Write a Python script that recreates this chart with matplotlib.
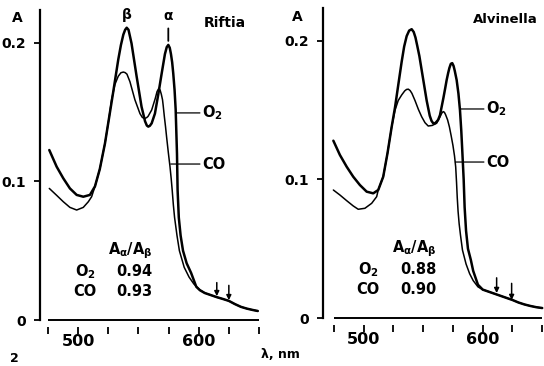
# -*- coding: UTF-8 -*-

# Absorption spectra of oxy (O2) and carboxy (CO) hemoglobin
# Riftia (left) and Alvinella (right)

import matplotlib
matplotlib.use('Agg')
import matplotlib.pyplot as plt

plt.rcParams['font.family'] = 'DejaVu Sans'
plt.rcParams['font.weight'] = 'bold'
plt.rcParams['mathtext.fontset'] = 'dejavusans'
plt.rcParams['mathtext.default'] = 'bf'

# ---- Riftia ----
rif_o2_wl = [476.1, 482.2, 487.7, 493.2, 498.8, 504.3, 509.8, 514.0, 518.0, 522.3,
             525.5, 529.0, 533.3, 535.5, 537.5, 539.0, 540.3, 541.8, 544.3, 548.5,
             552.6, 555.5, 557.0, 558.2, 559.5, 561.0, 563.7, 566.5, 569.3, 572.0,
             573.5, 574.8, 576.0, 577.0, 578.0, 578.9, 580.0, 580.9, 582.0, 582.5,
             583.5, 585.0, 587.0, 590.0, 593.7, 598.0, 601.0, 605.0, 610.0, 615.0,
             620.0, 625.0, 630.0, 635.0, 640.0, 645.0, 649.0]
rif_o2_a = [0.1227, 0.1107, 0.1023, 0.0950, 0.0903, 0.0890, 0.0903, 0.0965, 0.1090, 0.1276,
            0.1450, 0.1640, 0.1880, 0.1985, 0.2060, 0.2095, 0.2110, 0.2095, 0.1997, 0.1760,
            0.1540, 0.1435, 0.1404, 0.1396, 0.1402, 0.1420, 0.1490, 0.1630, 0.1780, 0.1920,
            0.1970, 0.1986, 0.1965, 0.1920, 0.1860, 0.1780, 0.1660, 0.1520, 0.1200, 0.0940,
            0.0740, 0.0610, 0.0500, 0.0410, 0.0340, 0.0240, 0.0215, 0.0195, 0.0180, 0.0165,
            0.0152, 0.0138, 0.0115, 0.0095, 0.0082, 0.0072, 0.0065]

rif_co_wl = [476.1, 482.2, 487.7, 493.2, 498.8, 504.3, 508.5, 511.2, 514.0, 518.0,
             522.3, 525.5, 527.8, 530.5, 533.3, 535.5, 537.5, 539.0, 540.5, 543.0,
             547.1, 551.3, 553.3, 555.4, 557.0, 558.0, 561.0, 564.0, 565.5, 567.0,
             568.0, 569.0, 570.0, 570.6, 571.5, 572.5, 573.4, 574.8, 576.2, 577.2,
             578.0, 579.0, 580.0, 582.0, 584.0, 588.0, 592.0, 596.0, 600.6, 605.0,
             610.0, 615.0, 620.0, 625.0, 630.0, 635.0, 640.0, 645.0, 649.0]
rif_co_a = [0.0950, 0.0900, 0.0854, 0.0813, 0.0794, 0.0813, 0.0854, 0.0890, 0.0965, 0.1090,
            0.1276, 0.1450, 0.1590, 0.1700, 0.1760, 0.1785, 0.1790, 0.1786, 0.1775, 0.1720,
            0.1590, 0.1490, 0.1462, 0.1455, 0.1462, 0.1470, 0.1516, 0.1600, 0.1650, 0.1672,
            0.1660, 0.1630, 0.1590, 0.1545, 0.1470, 0.1395, 0.1320, 0.1210, 0.1107, 0.1020,
            0.0940, 0.0830, 0.0740, 0.0610, 0.0500, 0.0380, 0.0310, 0.0260, 0.0220, 0.0195,
            0.0180, 0.0165, 0.0152, 0.0138, 0.0115, 0.0095, 0.0082, 0.0072, 0.0065]

# ---- Alvinella ----
alv_o2_wl = [474.5, 480.0, 485.7, 491.2, 496.8, 502.5, 508.0, 512.2, 516.4, 520.0,
             523.5, 526.3, 529.0, 531.9, 534.0, 536.1, 538.2, 540.3, 542.0, 543.5,
             545.0, 546.8, 548.7, 552.9, 555.5, 557.0, 558.4, 559.8, 561.0, 562.5,
             564.1, 565.5, 567.0, 568.5, 569.7, 571.0, 572.0, 573.2, 574.4, 575.5,
             576.5, 578.1, 579.6, 580.9, 582.0, 582.8, 584.0, 584.8, 586.0, 587.6,
             590.0, 592.0, 596.0, 600.0, 605.0, 610.0, 615.0, 620.0, 625.0, 630.0,
             635.0, 640.0, 645.0, 650.0]
alv_o2_a = [0.1280, 0.1177, 0.1092, 0.1020, 0.0960, 0.0912, 0.0900, 0.0924, 0.1020, 0.1190,
            0.1380, 0.1520, 0.1680, 0.1850, 0.1960, 0.2035, 0.2075, 0.2085, 0.2065, 0.2025,
            0.1965, 0.1890, 0.1790, 0.1570, 0.1460, 0.1423, 0.1406, 0.1405, 0.1415, 0.1430,
            0.1465, 0.1525, 0.1590, 0.1660, 0.1718, 0.1770, 0.1805, 0.1835, 0.1840, 0.1820,
            0.1785, 0.1718, 0.1620, 0.1500, 0.1350, 0.1213, 0.1000, 0.0800, 0.0630, 0.0500,
            0.0420, 0.0340, 0.0240, 0.0205, 0.0190, 0.0175, 0.0160, 0.0145, 0.0130, 0.0112,
            0.0098, 0.0087, 0.0078, 0.0072]

alv_co_wl = [474.5, 480.0, 485.7, 491.2, 495.4, 501.0, 506.7, 510.9, 512.2, 516.4,
             520.0, 523.5, 526.3, 529.0, 531.9, 534.5, 536.0, 537.5, 539.0, 540.5,
             543.1, 546.0, 548.7, 551.5, 554.2, 557.5, 561.3, 564.0, 565.5, 566.8,
             567.8, 568.8, 570.5, 572.0, 573.5, 575.0, 576.3, 577.3, 578.0, 578.6,
             579.3, 580.2, 581.3, 583.0, 586.0, 589.0, 592.0, 596.0, 600.0, 605.0,
             610.0, 615.0, 620.0, 625.0, 630.0, 635.0, 640.0, 645.0, 650.0]
alv_co_a = [0.0924, 0.0888, 0.0847, 0.0809, 0.0785, 0.0792, 0.0828, 0.0876, 0.0924, 0.1020,
            0.1190, 0.1380, 0.1500, 0.1570, 0.1610, 0.1640, 0.1650, 0.1652, 0.1642, 0.1622,
            0.1570, 0.1505, 0.1453, 0.1410, 0.1386, 0.1390, 0.1406, 0.1450, 0.1478, 0.1490,
            0.1485, 0.1468, 0.1430, 0.1380, 0.1315, 0.1245, 0.1170, 0.1090, 0.0980, 0.0870,
            0.0770, 0.0680, 0.0600, 0.0490, 0.0390, 0.0320, 0.0270, 0.0225, 0.0205, 0.0190,
            0.0175, 0.0160, 0.0145, 0.0130, 0.0112, 0.0098, 0.0087, 0.0078, 0.0072]

# 軸刻度
x_ticks = [475, 500, 525, 550, 575, 600, 625, 650]
x_ticklabels = ['', '500', '', '', '', '600', '', '']
y_ticks = [0, 0.1, 0.2]
y_ticklabels = ['0', '0.1', '0.2']

ratio_rows = ['O$_2$', 'CO']
rif_ratio = ['0.94', '0.93']
alv_ratio = ['0.88', '0.90']

W, H = 544, 366
fig = plt.figure(figsize=(W / 100, H / 100), dpi=100)
ax1 = fig.add_axes([40 / W, 46 / H, 221.4 / W, 310 / H])
ax2 = fig.add_axes([323 / W, 48 / H, 221.6 / W, 310 / H])


def style_axis(ax, xmin):
    ax.set_xlim(xmin, 652)
    ax.set_ylim(0, 0.2238)
    ax.spines['top'].set_visible(False)
    ax.spines['right'].set_visible(False)
    ax.spines['left'].set_linewidth(1.6)
    ax.spines['bottom'].set_position(('outward', 5))
    ax.spines['bottom'].set_visible(False)
    ax.set_xticks(x_ticks)
    ax.set_xticklabels(x_ticklabels, fontsize=11.5, fontweight='bold')
    ax.set_yticks(y_ticks)
    ax.set_yticklabels(y_ticklabels, fontsize=10, fontweight='bold')
    ax.tick_params(axis='x', direction='out', length=5, width=1.3, pad=0)
    ax.tick_params(axis='y', direction='out', length=4, width=1.3, pad=6)
    # baseline
    ax.hlines(0, x_ticks[0], x_ticks[-1], color='black', lw=1.4, clip_on=False)


def draw_panel(ax, o2_wl, o2_a, co_wl, co_a, o2_hook, co_hook, ratios,
               ratio_x, arrows):
    ax.plot(o2_wl, o2_a, color='black', lw=1.8, solid_capstyle='round',
            solid_joinstyle='round')
    ax.plot(co_wl, co_a, color='black', lw=1.1, solid_capstyle='round',
            solid_joinstyle='round')
    # curve labels
    ax.annotate('', xy=o2_hook, xytext=(601, o2_hook[1]),
                arrowprops=dict(arrowstyle='-', lw=0.9, color='black',
                                shrinkA=0, shrinkB=0))
    ax.text(602.7, o2_hook[1], 'O$_2$', fontsize=10.5, ha='left', va='center')
    ax.annotate('', xy=co_hook, xytext=(601, co_hook[1]),
                arrowprops=dict(arrowstyle='-', lw=0.9, color='black',
                                shrinkA=0, shrinkB=0))
    ax.text(602.7, co_hook[1], 'CO', fontsize=10.5, ha='left', va='center')
    # ratio table
    ax.text(ratio_x[0], 0.050, r'A$_{\alpha}$/A$_{\beta}$', fontsize=10.5,
            ha='center', va='center')
    for i, name in enumerate(ratio_rows):
        yy = [0.0347, 0.0205][i]
        ax.text(ratio_x[1], yy, name, fontsize=10.5, ha='center', va='center')
        ax.text(ratio_x[2], yy, ratios[i], fontsize=10.5, ha='center', va='center')
    # arrows
    for (xa, top, tip) in arrows:
        ax.annotate('', xy=(xa, tip), xytext=(xa, top),
                    arrowprops=dict(arrowstyle='-|>', lw=1.1, color='black',
                                    mutation_scale=7, shrinkA=0, shrinkB=0))


style_axis(ax1, 468.4)
style_axis(ax2, 465.8)

draw_panel(ax1, rif_o2_wl, rif_o2_a, rif_co_wl, rif_co_a,
           (581.5, 0.1495), (576.8, 0.1126), rif_ratio, (543.0, 505.7, 546.3),
           [(615.0, 0.027, 0.0172), (625.0, 0.025, 0.0143)])
draw_panel(ax2, alv_o2_wl, alv_o2_a, alv_co_wl, alv_co_a,
           (580.9, 0.1509), (577.0, 0.1126), alv_ratio, (542.2, 503.6, 545.6),
           [(611.7, 0.029, 0.0180), (624.3, 0.025, 0.0130)])

# peak marks (Riftia)
ax1.text(540.3, 0.2202, 'β', fontsize=10, ha='center', va='center')
ax1.text(574.3, 0.2195, 'α', fontsize=10, ha='center', va='center')
ax1.annotate('', xy=(574.8, 0.2015), xytext=(574.8, 0.2105),
             arrowprops=dict(arrowstyle='-', lw=1.3, color='black',
                             shrinkA=0, shrinkB=0))

ax1.text(621.8, 0.2144, 'Riftia', fontsize=10, ha='center', va='center')
ax2.text(618.7, 0.2152, 'Alvinella', fontsize=9.5, ha='center', va='center')

fig.text(17 / W, 1 - 18 / H, 'A', fontsize=10, ha='center', va='center')
fig.text(297 / W, 1 - 17 / H, 'A', fontsize=10, ha='center', va='center')
fig.text(280 / W, 1 - 355 / H, 'λ, nm', fontsize=9, ha='center', va='center')
fig.text(14 / W, 1 / H, '2', fontsize=9, ha='center', va='bottom')

fig.savefig('out.png', dpi=100)
